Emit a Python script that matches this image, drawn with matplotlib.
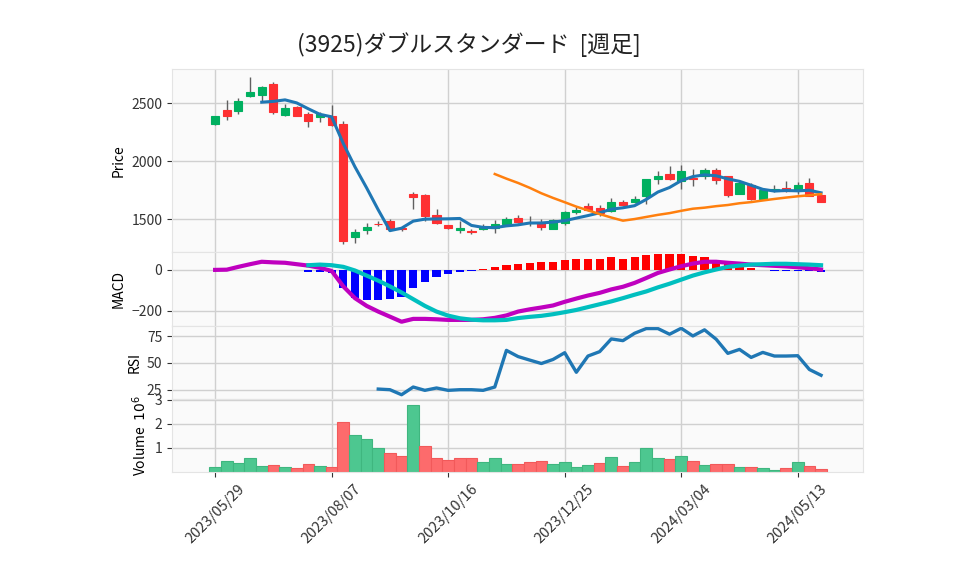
import numpy as np
import pandas as pd
import matplotlib
matplotlib.use('Agg')
import matplotlib.pyplot as plt

plt.rcParams['font.family'] = ['Noto Sans CJK JP', 'DejaVu Sans']
plt.rcParams['axes.unicode_minus'] = True

# weekly candles, 2023/05/29 .. 2024/05/27
dates = pd.date_range('2023-05-29', periods=53, freq='W-MON')

opens = [2316, 2443, 2428, 2557, 2572, 2667, 2399, 2466, 2408, 2376,
         2391, 2322, 1342, 1402, 1460, 1483, 1420, 1718, 1710, 1534,
         1448, 1402, 1397, 1414, 1425, 1454, 1511, 1465, 1471, 1414,
         1465, 1557, 1615, 1597, 1566, 1649, 1644, 1695, 1845, 1891,
         1830, 1852, 1868, 1925, 1868, 1718, 1796, 1675, 1748, 1770,
         1747, 1810, 1710]
highs = [2392, 2529, 2540, 2724, 2647, 2684, 2494, 2477, 2422, 2420,
         2483, 2342, 1414, 1466, 1480, 1500, 1425, 1733, 1712, 1586,
         1452, 1483, 1414, 1454, 1494, 1517, 1534, 1523, 1500, 1497,
         1566, 1600, 1638, 1621, 1684, 1667, 1695, 1848, 1917, 1960,
         1965, 1931, 1940, 1940, 1875, 1825, 1810, 1758, 1793, 1825,
         1822, 1856, 1712]
lows = [2308, 2356, 2408, 2552, 2514, 2402, 2385, 2388, 2293, 2336,
        2305, 1284, 1293, 1370, 1442, 1402, 1395, 1589, 1483, 1457,
        1418, 1376, 1373, 1402, 1379, 1450, 1465, 1437, 1402, 1410,
        1445, 1546, 1572, 1529, 1560, 1615, 1635, 1632, 1805, 1833,
        1759, 1787, 1845, 1805, 1690, 1712, 1665, 1672, 1733, 1733,
        1713, 1695, 1644]
closes = [2385, 2391, 2520, 2598, 2641, 2420, 2457, 2391, 2342, 2402,
          2313, 1307, 1388, 1434, 1455, 1417, 1412, 1690, 1523, 1462,
          1425, 1424, 1392, 1434, 1454, 1500, 1471, 1468, 1431, 1494,
          1563, 1580, 1582, 1552, 1649, 1623, 1672, 1848, 1873, 1845,
          1917, 1845, 1925, 1833, 1710, 1810, 1675, 1753, 1755, 1738,
          1793, 1701, 1644]
volume = [0.19, 0.46, 0.38, 0.58, 0.25, 0.28, 0.21, 0.15, 0.32, 0.25,
          0.19, 2.07, 1.53, 1.36, 0.99, 0.79, 0.65, 2.79, 1.07, 0.57,
          0.49, 0.57, 0.57, 0.42, 0.58, 0.33, 0.33, 0.42, 0.46, 0.33,
          0.42, 0.21, 0.29, 0.375, 0.63, 0.25, 0.42, 1.00, 0.58, 0.54,
          0.67, 0.46, 0.29, 0.33, 0.33, 0.21, 0.21, 0.17, 0.08, 0.17,
          0.42, 0.25, 0.125]  # x 10^6

ma5 = [np.nan] * 4 + [
    2507, 2514, 2527, 2501, 2450, 2402, 2381, 2151, 1950, 1769,
    1579, 1400, 1421, 1482, 1499, 1501, 1502, 1505, 1445, 1428,
    1426, 1441, 1450, 1466, 1466, 1474, 1486, 1508, 1530, 1554,
    1585, 1597, 1615, 1669, 1733, 1772, 1831, 1866, 1881, 1873,
    1846, 1825, 1791, 1756, 1741, 1746, 1743, 1748, 1726]
ma25 = [np.nan] * 24 + [
    1888, 1848, 1811, 1769, 1722, 1682, 1645, 1607, 1575, 1543,
    1513, 1486, 1500, 1518, 1536, 1551, 1571, 1589, 1598, 1611,
    1621, 1636, 1646, 1660, 1673, 1685, 1696, 1705, 1715]

macd = [0, 1, 15, 28, 40, 37, 35, 28, 21, 10,
        -5, -81, -139, -177, -205, -230, -255, -241, -241, -243,
        -246, -246, -246, -243, -236, -224, -205, -194, -185, -175,
        -157, -141, -126, -113, -96, -83, -64, -40, -15, 2,
        18, 31, 40, 40, 35, 31, 26, 23, 20, 17,
        13, 8, 2]
signal = [np.nan] * 8 + [
    23, 26, 23, 15, -3, -28, -53, -81, -111, -144,
    -177, -205, -225, -238, -245, -248, -248, -246, -237, -231,
    -226, -218, -208, -197, -183, -169, -155, -139, -122, -106,
    -86, -68, -48, -28, -12, 2, 15, 21, 26, 28,
    30, 30, 28, 26, 23]
hist = [np.nan] * 8 + [
    -8, -8, -15, -91, -136, -150, -150, -144, -131, -91,
    -61, -36, -21, -8, -3, 5, 15, 26, 31, 35,
    41, 41, 51, 56, 56, 56, 61, 56, 61, 71,
    76, 76, 76, 68, 61, 51, 35, 21, 10, -2,
    -3, -3, -3, -5, -12]

rsi = [np.nan] * 14 + [
    25.6, 25.0, 20.3, 27.5, 24.4, 26.6, 24.4, 25.0, 25.0, 24.4,
    27.5, 61.8, 56.0, 52.7, 49.5, 53.3, 59.6, 41.3, 56.5, 60.6,
    72.5, 70.9, 77.8, 82.2, 82.2, 76.9, 82.5, 75.3, 81.0, 72.2,
    59.0, 62.7, 55.2, 59.9, 56.5, 56.5, 56.8, 43.9, 38.5]

tick_labels = ['2023/05/29', '2023/08/07', '2023/10/16',
               '2023/12/25', '2024/03/04', '2024/05/13']

x = np.arange(len(dates))
tick_pos = [dates.get_loc(pd.Timestamp(t.replace('/', '-'))) for t in tick_labels]

o = np.array(opens)
c = np.array(closes)
up = c >= o
candle_col = np.where(up, '#00b060', '#fe3032')
prev = np.r_[c[0] - 1, c[:-1]]
vol_col = np.where(c > prev, '#4dc790', '#fd6b6c')
vol_edge = np.where(c > prev, '#3fb67f', '#f2595a')
h = np.array(hist, dtype=float)
hist_col = np.where(h >= 0, 'red', 'blue')

fig = plt.figure(figsize=(9.58, 5.75), dpi=100)
gs = fig.add_gridspec(4, 1, height_ratios=[183, 74, 73, 73], hspace=0,
                      left=172/958, right=863/958,
                      top=1 - 69/575, bottom=1 - 472/575)
ax1 = fig.add_subplot(gs[0])
ax2 = fig.add_subplot(gs[1], sharex=ax1)
ax3 = fig.add_subplot(gs[2], sharex=ax1)
ax4 = fig.add_subplot(gs[3], sharex=ax1)

for ax in (ax1, ax2, ax3, ax4):
    ax.set_facecolor('#fafafa')
    ax.grid(True, color='#d0d0d0', linewidth=1.0)
    ax.set_axisbelow(True)
    for s in ax.spines.values():
        s.set_color('#e4e4e4')
    ax.tick_params(axis='y', labelsize=10, colors='#333333', length=3.5)
    ax.tick_params(axis='x', labelsize=10.5, colors='#333333', length=3.5)

# price
ax1.vlines(x, lows, highs, color='#606060', linewidth=1, zorder=2)
ax1.bar(x, np.abs(c - o), bottom=np.minimum(o, c), width=0.7,
        color=candle_col, edgecolor=candle_col, linewidth=0.8, zorder=3)
ax1.plot(x, ma5, color='#1f77b4', linewidth=2.2, zorder=4)
ax1.plot(x, ma25, color='#ff7f0e', linewidth=1.8, zorder=4)
ax1.set_ylim(1216, 2793)
ax1.set_yticks([1500, 2000, 2500])
ax1.set_ylabel('Price', fontsize=10)

# MACD
ax2.bar(x, hist, width=0.7, color=hist_col, zorder=2)
ax2.plot(x, macd, color='m', linewidth=3, zorder=3)
ax2.plot(x, signal, color='c', linewidth=3, zorder=3)
ax2.set_ylim(-276, 88)
ax2.set_yticks([-200, 0])
ax2.set_ylabel('MACD', fontsize=10)

# RSI
ax3.plot(x, rsi, color='#1f77b4', linewidth=2.4)
ax3.set_ylim(16.3, 84.6)
ax3.set_yticks([25, 50, 75])
ax3.set_ylabel('RSI', fontsize=10)

# volume
ax4.bar(x, volume, width=1.0, color=vol_col, edgecolor=vol_edge, linewidth=0.8)
ax4.set_ylim(0, 3.04)
ax4.set_yticks([1, 2, 3])
ax4.set_ylabel('Volume  $10^{6}$', fontsize=10)

ax4.set_xlim(-3.7, 55.6)
ax4.set_xticks(tick_pos)
ax4.set_xticklabels(tick_labels, rotation=45)
for ax in (ax1, ax2, ax3):
    ax.tick_params(axis='x', bottom=False, labelbottom=False)

fig.text(469/958, 1 - 45/575, '(3925)ダブルスタンダード  [週足]',
         ha='center', va='center', fontsize=16.5, color='#222222')

fig.savefig('out.png', dpi=100)
